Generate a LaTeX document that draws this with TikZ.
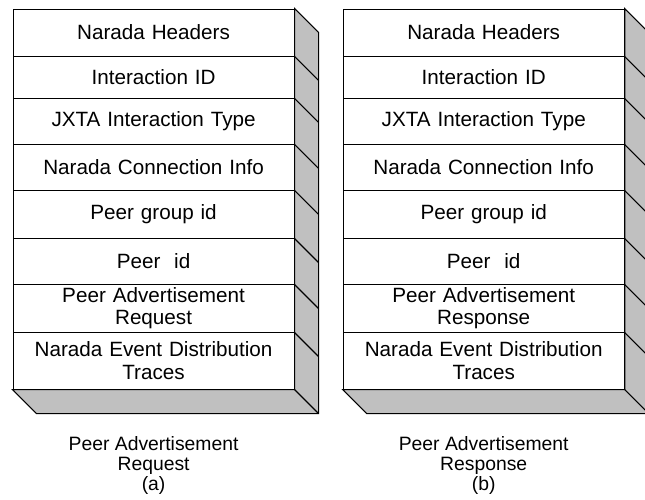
\documentclass[tikz,border=0pt]{standalone}
\usepackage{fontspec}
\setmainfont{Liberation Sans}
\usetikzlibrary{matrix,positioning}
\definecolor{sidegray}{HTML}{C0C0C0}

\begin{document}
\begin{tikzpicture}[x=0.75pt,y=-0.75pt,line width=0.8pt,
        stack/.style={matrix of nodes, inner sep=0pt, column sep=-\pgflinewidth, row sep=-\pgflinewidth,
            nodes={draw, anchor=center, minimum width=210.75pt, text width=195pt, align=center, inner ysep=0pt,
                font=\fontsize{15.5}{17}\selectfont},
            row 1/.style={nodes={minimum height=35.25pt}},
            row 2/.style={nodes={minimum height=31.5pt}},
            row 3/.style={nodes={minimum height=34.5pt}},
            row 4/.style={nodes={minimum height=34.5pt}},
            row 5/.style={nodes={minimum height=36pt}},
            row 6/.style={nodes={minimum height=34.5pt}},
            row 7/.style={nodes={minimum height=36pt}},
            row 8/.style={nodes={minimum height=42.75pt}}},
        side/.style={fill=sidegray, draw=black},
        caption/.style={align=center, font=\fontsize{14.5}{14.8}\selectfont}]
    \useasboundingbox (0,0) rectangle (645,499);

    \matrix[stack, anchor=north west] (req) at (12,8) {
        Narada Headers \\
        Interaction ID \\
        JXTA Interaction Type \\
        Narada Connection Info \\
        Peer group id \\
        Peer~ id \\
        Peer Advertisement\break Request \\
        Narada Event Distribution\break Traces \\
    };
    \matrix[stack, right=35.25pt of req] (resp) {
        Narada Headers \\
        Interaction ID \\
        JXTA Interaction Type \\
        Narada Connection Info \\
        Peer group id \\
        Peer~ id \\
        Peer Advertisement\break Response \\
        Narada Event Distribution\break Traces \\
    };

    % side and bottom faces
    \foreach \m in {req,resp} {
        \filldraw[side] (\m-1-1.north east) -- ++(24,24) -- ([shift={(24,24)}]\m-8-1.south east)
            -- ([shift={(24,24)}]\m-8-1.south west) -- (\m-8-1.south west) -- (\m-8-1.south east) -- cycle;
        \foreach \r in {1,...,8}
            \draw (\m-\r-1.south east) -- ++(24,24);
    }

    \node[caption, below=31.5pt of req-8-1] (reqcap) {Peer Advertisement\\ Request\\ (a)};
    \node[caption, below=31.5pt of resp-8-1] (respcap) {Peer Advertisement\\ Response\\ (b)};
\end{tikzpicture}
\end{document}
